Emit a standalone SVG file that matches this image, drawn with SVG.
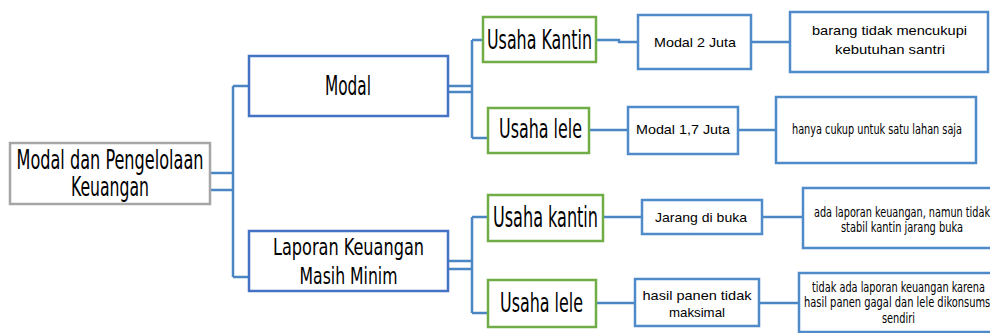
<svg xmlns="http://www.w3.org/2000/svg" width="990" height="333" viewBox="0 0 990 333">
<style>
.bg{fill:#ffffff}
.root{fill:#fff;stroke:#a6a6a6;stroke-width:2.5}
.lvl1{fill:#fff;stroke:#4472c4;stroke-width:2.5}
.lvl2{fill:#fff;stroke:#70ad47;stroke-width:2.5}
.leaf{fill:#fff;stroke:#4f8bc9;stroke-width:2.5}
.con{fill:none;stroke:#4a86c4;stroke-width:2.5}
.cond{font-family:"Liberation Sans Narrow","DejaVu Sans Condensed","Liberation Sans",sans-serif;fill:#000;text-anchor:middle}
.cal{font-family:"Liberation Sans","DejaVu Sans",sans-serif;fill:#000;text-anchor:middle;font-size:13px}
</style>
<rect class="bg" x="0" y="0" width="990" height="333"/>
<g id="connectors">
<path class="con" d="M210 173H233M210 190H233M233 86V277M233 86H249M233 277H249"/>
<path class="con" d="M448 86H472M448 92H472M472 40V138M472 40H483M472 138H488"/>
<path class="con" d="M448 261H472M448 269H472M472 217V313M472 217H488M472 313H488"/>
<path class="con" d="M596 40H619V42H638M751 42H790"/>
<path class="con" d="M589 130H628M738 130H776"/>
<path class="con" d="M603 217H642M762 217H803"/>
<path class="con" d="M596 303H635M759 303H799"/>
</g>
<g id="root">
<rect class="root" x="10" y="143" width="200" height="61"/>
<text class="cond" x="110" y="169" font-size="26" textLength="187" lengthAdjust="spacingAndGlyphs">Modal dan Pengelolaan</text>
<text class="cond" x="110" y="196" font-size="26" textLength="78" lengthAdjust="spacingAndGlyphs">Keuangan</text>
</g>
<g id="modal">
<rect class="lvl1" x="249" y="56" width="199" height="60"/>
<text class="cond" x="348" y="95" font-size="27" textLength="46" lengthAdjust="spacingAndGlyphs">Modal</text>
</g>
<g id="laporan">
<rect class="lvl1" x="249" y="231" width="199" height="60"/>
<text class="cond" x="348.5" y="255" font-size="23" textLength="151" lengthAdjust="spacingAndGlyphs">Laporan Keuangan</text>
<text class="cond" x="348.5" y="284" font-size="23" textLength="98" lengthAdjust="spacingAndGlyphs">Masih Minim</text>
</g>
<g id="usaha-kantin-1">
<rect class="lvl2" x="483" y="17" width="113" height="45"/>
<text class="cond" x="539.5" y="49" font-size="27" textLength="105" lengthAdjust="spacingAndGlyphs">Usaha Kantin</text>
</g>
<g id="usaha-lele-1">
<rect class="lvl2" x="488" y="108" width="101" height="45"/>
<text class="cond" x="540.5" y="138" font-size="27" textLength="83" lengthAdjust="spacingAndGlyphs">Usaha lele</text>
</g>
<g id="usaha-kantin-2">
<rect class="lvl2" x="488" y="195" width="115" height="46"/>
<text class="cond" x="545.5" y="227" font-size="28" textLength="105" lengthAdjust="spacingAndGlyphs">Usaha kantin</text>
</g>
<g id="usaha-lele-2">
<rect class="lvl2" x="488" y="280" width="108" height="47"/>
<text class="cond" x="541.5" y="312" font-size="27" textLength="83" lengthAdjust="spacingAndGlyphs">Usaha lele</text>
</g>
<g id="modal-2-juta">
<rect class="leaf" x="638" y="15" width="113" height="54"/>
<text class="cal" x="695" y="47" textLength="82" lengthAdjust="spacingAndGlyphs">Modal 2 Juta</text>
</g>
<g id="barang">
<rect class="leaf" x="790" y="12" width="198" height="60"/>
<text class="cal" x="889.5" y="35" textLength="155" lengthAdjust="spacingAndGlyphs">barang tidak mencukupi</text>
<text class="cal" x="890" y="54" textLength="110" lengthAdjust="spacingAndGlyphs">kebutuhan santri</text>
</g>
<g id="modal-17-juta">
<rect class="leaf" x="628" y="107" width="110" height="47"/>
<text class="cal" x="683" y="134" textLength="94" lengthAdjust="spacingAndGlyphs">Modal 1,7 Juta</text>
</g>
<g id="hanya">
<rect class="leaf" x="776" y="97" width="200" height="66"/>
<text class="cond" x="877" y="134" font-size="14" textLength="170" lengthAdjust="spacingAndGlyphs">hanya cukup untuk satu lahan saja</text>
</g>
<g id="jarang">
<rect class="leaf" x="642" y="200" width="120" height="34"/>
<text class="cal" x="701" y="222" textLength="92" lengthAdjust="spacingAndGlyphs">Jarang di buka</text>
</g>
<g id="ada-laporan">
<rect class="leaf" x="803" y="188" width="198" height="60"/>
<text class="cond" x="902" y="217" font-size="14" textLength="176" lengthAdjust="spacingAndGlyphs">ada laporan keuangan, namun tidak</text>
<text class="cond" x="902" y="232" font-size="14" textLength="122" lengthAdjust="spacingAndGlyphs">stabil kantin jarang buka</text>
</g>
<g id="hasil-panen">
<rect class="leaf" x="635" y="279" width="124" height="47"/>
<text class="cal" x="697" y="300" textLength="109" lengthAdjust="spacingAndGlyphs">hasil panen tidak</text>
<text class="cal" x="697" y="317" textLength="56" lengthAdjust="spacingAndGlyphs">maksimal</text>
</g>
<g id="tidak-ada-laporan">
<rect class="leaf" x="799" y="273" width="198" height="59"/>
<text class="cond" x="898.5" y="292" font-size="14" textLength="173" lengthAdjust="spacingAndGlyphs">tidak ada laporan keuangan karena</text>
<text class="cond" x="898.5" y="307" font-size="14" textLength="189" lengthAdjust="spacingAndGlyphs">hasil panen gagal dan lele dikonsumsi</text>
<text class="cond" x="898.5" y="323" font-size="14" textLength="33" lengthAdjust="spacingAndGlyphs">sendiri</text>
</g>
</svg>
